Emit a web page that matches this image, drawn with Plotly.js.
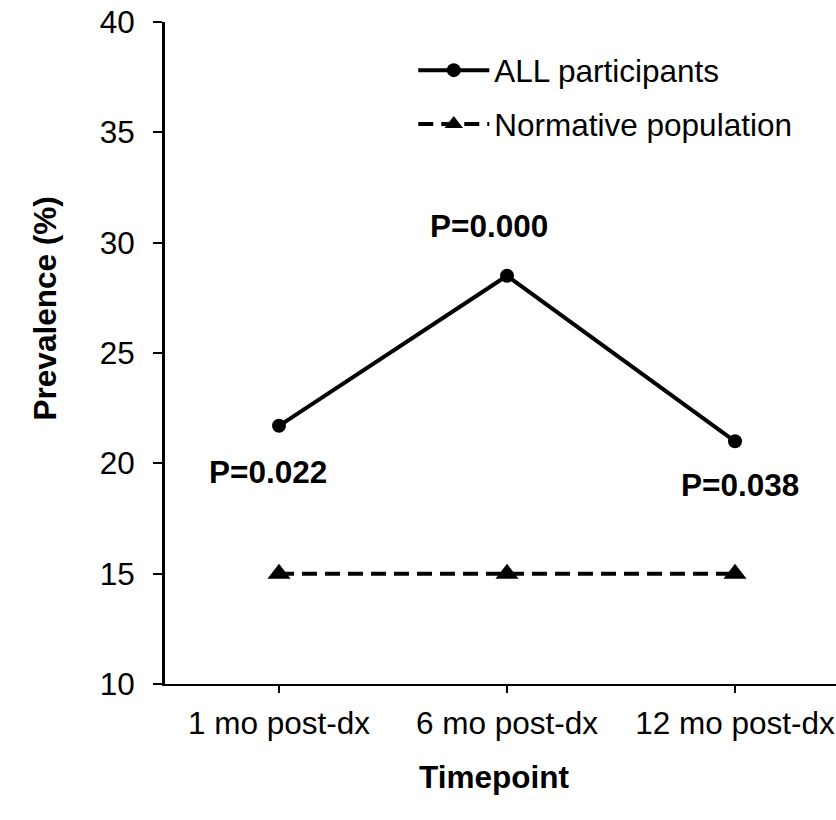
<!DOCTYPE html>
<html>
<head>
<meta charset="utf-8">
<script src="https://cdn.plot.ly/plotly-3.0.1.min.js"></script>
<style>html,body{margin:0;padding:0;background:#fff;}#chart{width:836px;height:820px;}</style>
</head>
<body>
<div id="chart"></div>
<script>
const categories = ["1 mo post-dx", "6 mo post-dx", "12 mo post-dx"];
const allParticipants = [21.7, 28.5, 21.0];
const normative = [15, 15, 15];
const pLabels = ["P=0.022", "P=0.000", "P=0.038"];
const pLabelY = [19.6, 30.75, 19.0];
const yTicks = [10, 15, 20, 25, 30, 35, 40];

const FONT = "Arial, 'Liberation Sans', sans-serif";
const FS = 31.5;
const xIdx = categories.map((c, i) => i);

const traces = [
  {
    x: xIdx, y: allParticipants, name: "ALL participants", type: "scatter", mode: "lines+markers",
    line: {color: "#000", width: 4}, marker: {symbol: "circle", size: 14, color: "#000"},
    legendgroup: "a"
  },
  {
    x: xIdx, y: normative, name: "Normative population", type: "scatter", mode: "lines+markers",
    line: {color: "#000", width: 4, dash: "15px,8px"}, marker: {symbol: "triangle-up", size: 20, color: "#000"},
    legendgroup: "b"
  }
];

const xShifts = [-11, -18, 5];
const annotations = pLabels.map((t, i) => ({
  x: xIdx[i], y: pLabelY[i], xref: "x", yref: "y", text: t, showarrow: false,
  xshift: xShifts[i], font: {family: FONT, size: FS, color: "#000", weight: "bold"}
}));
annotations.push({
  xref: "paper", yref: "paper", x: -0.208, y: 0.568, text: "Prevalence (%)", textangle: -90,
  showarrow: false, font: {family: FONT, size: FS, color: "#000", weight: "bold"}
});
annotations.push({
  xref: "paper", yref: "paper", x: 0.49, y: -0.17, text: "Timepoint",
  showarrow: false, font: {family: FONT, size: FS, color: "#000", weight: "bold"}
});

const layout = {
  width: 836, height: 820,
  margin: {l: 165, r: 0, t: 22, b: 136},
  paper_bgcolor: "#fff", plot_bgcolor: "#fff",
  font: {family: FONT, size: FS, color: "#000"},
  showlegend: true,
  legend: {x: 0.37, y: 0.968, xanchor: "left", yanchor: "top", bgcolor: "rgba(0,0,0,0)",
           font: {family: FONT, size: FS, color: "#000"}, tracegroupgap: 10, traceorder: "grouped",
           itemwidth: 71},
  xaxis: {
    range: [-0.5, 2.443], tickmode: "array", tickvals: xIdx, ticktext: categories,
    showgrid: false, zeroline: false, showline: true, linecolor: "#000", linewidth: 2,
    ticks: "outside", ticklen: 7, tickwidth: 2, tickcolor: "#000",
    tickfont: {family: FONT, size: FS, color: "#000"}, ticklabelstandoff: 3
  },
  yaxis: {
    range: [10, 40], tickmode: "array", tickvals: yTicks,
    showgrid: false, zeroline: false, showline: true, linecolor: "#000", linewidth: 3,
    ticks: "outside", ticklen: 9, tickwidth: 2, tickcolor: "#000",
    tickfont: {family: FONT, size: FS, color: "#000"}, ticklabelstandoff: 12
  },
  annotations: annotations
};

Plotly.newPlot("chart", traces, layout, {displayModeBar: false, staticPlot: true});
</script>
</body>
</html>
